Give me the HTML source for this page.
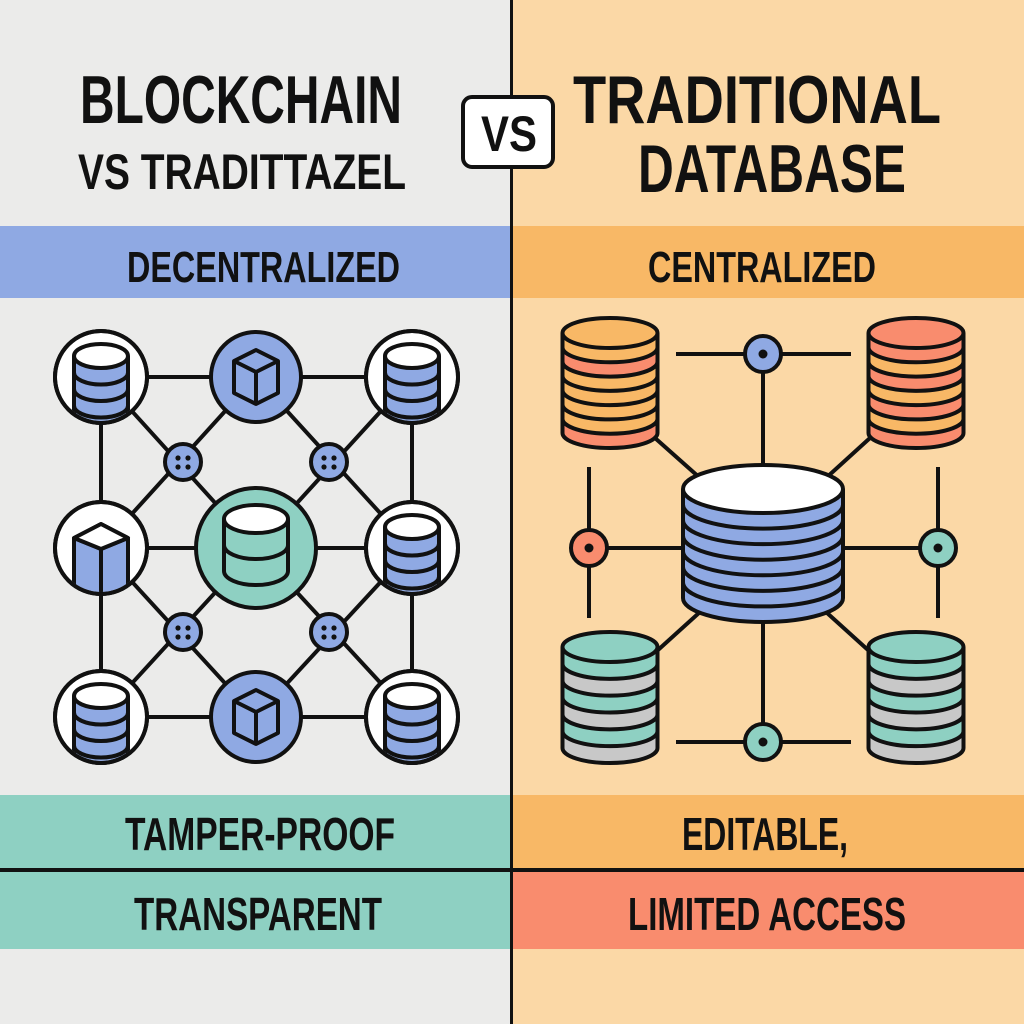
<!DOCTYPE html>
<html><head><meta charset="utf-8"><style>
html,body{margin:0;padding:0;width:1024px;height:1024px;overflow:hidden;background:#ebebeb}
svg{display:block}
text{font-family:"Liberation Sans",sans-serif;font-weight:bold;fill:#111}
</style></head><body>
<svg id="s" width="1024" height="1024" viewBox="0 0 1024 1024" xmlns="http://www.w3.org/2000/svg">
<rect x="0" y="0" width="512" height="1024" fill="#ebebea"/>
<rect x="512" y="0" width="512" height="1024" fill="#fbd8a6"/>
<rect x="0" y="226" width="511" height="72" fill="#8fa9e3"/>
<rect x="512" y="226" width="512" height="72" fill="#f8b866"/>
<rect x="0" y="795" width="511" height="75" fill="#8ed0c2"/>
<rect x="0" y="872" width="511" height="77" fill="#8ed0c2"/>
<rect x="512" y="795" width="512" height="75" fill="#f8b866"/>
<rect x="512" y="872" width="512" height="77" fill="#f98c6e"/>
<rect x="0" y="868" width="1024" height="4" fill="#111"/>
<rect x="510" y="0" width="3" height="1024" fill="#111"/>

<text x="80" y="123" font-size="68" textLength="322" lengthAdjust="spacingAndGlyphs">BLOCKCHAIN</text>
<text x="78" y="189" font-size="50" textLength="328" lengthAdjust="spacingAndGlyphs">VS TRADITTAZEL</text>
<rect x="463" y="97" width="90" height="70" rx="9" fill="#fff" stroke="#111" stroke-width="4"/>
<text x="481" y="151" font-size="50" textLength="56" lengthAdjust="spacingAndGlyphs">VS</text>
<text x="573" y="123" font-size="68" textLength="368" lengthAdjust="spacingAndGlyphs">TRADITIONAL</text>
<text x="638" y="192" font-size="68" textLength="268" lengthAdjust="spacingAndGlyphs">DATABASE</text>
<text x="127" y="282" font-size="44" textLength="273" lengthAdjust="spacingAndGlyphs">DECENTRALIZED</text>
<text x="648" y="282" font-size="44" textLength="228" lengthAdjust="spacingAndGlyphs">CENTRALIZED</text>
<text x="125" y="850" font-size="46" textLength="270" lengthAdjust="spacingAndGlyphs">TAMPER-PROOF</text>
<text x="134" y="930" font-size="46" textLength="248" lengthAdjust="spacingAndGlyphs">TRANSPARENT</text>
<text x="682" y="850" font-size="46" textLength="166" lengthAdjust="spacingAndGlyphs">EDITABLE,</text>
<text x="628" y="930" font-size="46" textLength="278" lengthAdjust="spacingAndGlyphs">LIMITED ACCESS</text>
<g id="g"></g>
</svg>
<script>
var g=document.getElementById('g'),h='';
var K='#111',B='#8fa9e3',T='#8ed0c2',O='#f8b866',S='#f98c6e',G='#c8c8c8';
function L(a,b,c,d){h+='<line x1="'+a+'" y1="'+b+'" x2="'+c+'" y2="'+d+'" stroke="'+K+'" stroke-width="4"/>';}
function C(x,y,r,f,sw){h+='<circle cx="'+x+'" cy="'+y+'" r="'+r+'" fill="'+f+'" stroke="'+K+'" stroke-width="'+(sw||4)+'"/>';}
function cyl(cx,top,w,ht,ry,tf,bands,sw){
 var rx=w/2,x0=cx-rx,x1=cx+rx,yt=top+ry,yb=top+ht-ry,n=bands.length,st=(yb-yt)/n;
 for(var k=0;k<n;k++){var a=yt+k*st,b=a+st;
  h+='<path d="M'+x0+','+a+' A'+rx+','+ry+' 0 0 0 '+x1+','+a+' L'+x1+','+b+' A'+rx+','+ry+' 0 0 1 '+x0+','+b+' Z" fill="'+bands[k]+'"/>';}
 for(var k=1;k<=n;k++){var a=yt+k*st;h+='<path d="M'+x0+','+a+' A'+rx+','+ry+' 0 0 0 '+x1+','+a+'" fill="none" stroke="'+K+'" stroke-width="'+sw+'"/>';}
 h+='<line x1="'+x0+'" y1="'+yt+'" x2="'+x0+'" y2="'+yb+'" stroke="'+K+'" stroke-width="'+sw+'"/><line x1="'+x1+'" y1="'+yt+'" x2="'+x1+'" y2="'+yb+'" stroke="'+K+'" stroke-width="'+sw+'"/>';
 h+='<ellipse cx="'+cx+'" cy="'+yt+'" rx="'+rx+'" ry="'+ry+'" fill="'+tf+'" stroke="'+K+'" stroke-width="'+sw+'"/>';}
var id=0;
function dbNode(x,y){id++;C(x,y,46,'#fff');h+='<clipPath id="c'+id+'"><circle cx="'+x+'" cy="'+y+'" r="44"/></clipPath><g clip-path="url(#c'+id+')">';
 cyl(x,y-33,54,90,12,'#fff',[B,B,B,B],4);h+='</g>';C(x,y,46,'none');}
function cube(x,y){var a=22,s=27,b=11;
 h+='<path d="M'+x+','+(y-s)+' L'+(x+a)+','+(y-s+b)+' L'+(x+a)+','+(y+s-b)+' L'+x+','+(y+s)+' L'+(x-a)+','+(y+s-b)+' L'+(x-a)+','+(y-s+b)+' Z" fill="'+B+'" stroke="'+K+'" stroke-width="4" stroke-linejoin="round"/>';
 h+='<path d="M'+(x-a)+','+(y-s+b)+' L'+x+','+(y-s+2*b)+' L'+(x+a)+','+(y-s+b)+' M'+x+','+(y-s+2*b)+' L'+x+','+(y+s)+'" fill="none" stroke="'+K+'" stroke-width="4" stroke-linejoin="round"/>';}
L(101,377,412,377);L(101,717,412,717);L(101,548,412,548);L(101,377,101,717);L(412,377,412,717);
var sm=[[183,462],[329,462],[183,632],[329,632]];
L(101,377,256,548);L(256,377,101,548);L(412,377,256,548);L(256,377,412,548);
L(101,717,256,548);L(256,717,101,548);L(412,717,256,548);L(256,717,412,548);
dbNode(101,377);dbNode(412,377);dbNode(412,548);dbNode(101,717);dbNode(412,717);
C(256,377,45,B);cube(256,377);C(256,717,45,B);cube(256,717);
id++;C(101,548,46,'#fff');h+='<clipPath id="c'+id+'"><circle cx="101" cy="548" r="44"/></clipPath><g clip-path="url(#c'+id+')">';
h+='<path d="M74,538 L101,524 L128,538 L128,600 L74,600 Z" fill="'+B+'" stroke="'+K+'" stroke-width="4" stroke-linejoin="round"/><path d="M74,538 L101,549 L128,538 M101,549 L101,600" fill="none" stroke="'+K+'" stroke-width="4"/><path d="M74,538 L101,524 L128,538 L101,549 Z" fill="#fff" stroke="'+K+'" stroke-width="4" stroke-linejoin="round"/></g>';C(101,548,46,'none');
C(256,548,60,T);cyl(256,505,64,80,14,'#fff',[T,T],4);
sm.forEach(function(p){C(p[0],p[1],18,B);[[-5,-4],[5,-4],[-5,5],[5,5]].forEach(function(d){h+='<circle cx="'+(p[0]+d[0])+'" cy="'+(p[1]+d[1])+'" r="2.6" fill="'+K+'"/>';});});
L(676,354,851,354);L(763,354,763,470);L(589,467,589,618);L(589,548,690,548);L(938,467,938,618);L(836,548,938,548);
L(676,742,851,742);L(763,615,763,742);
L(655,438,700,478);L(870,438,826,478);L(700,612,658,650);L(826,612,868,650);
cyl(610,318,95,130,15,O,[O,S,O,O,O,O,S],4);
cyl(916,318,95,130,15,S,[S,O,S,O,S,O,S],4);
cyl(610,632,95,131,15,T,[T,G,T,G,T,G],4);
cyl(916,632,95,131,15,T,[T,G,T,G,T,G],4);
cyl(763,465,160,157,24,'#fff',[B,B,B,B,B,B,B],4);
[[763,354,B],[589,548,S],[938,548,T],[763,742,T]].forEach(function(p){C(p[0],p[1],18,p[2]);h+='<circle cx="'+p[0]+'" cy="'+p[1]+'" r="4.5" fill="'+K+'"/>';});
g.innerHTML=h;
</script>
</body></html>
